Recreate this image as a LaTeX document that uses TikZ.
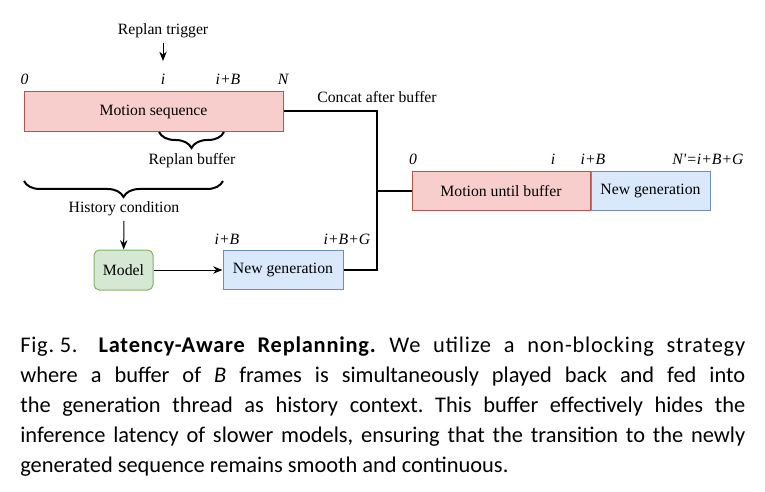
\documentclass[tikz,border=0pt]{standalone}
\usepackage{fontspec}
\setmainfont{Liberation Serif}
\newfontfamily\capfont{Carlito}
\usetikzlibrary{arrows.meta,positioning,calc,decorations.pathreplacing}
\definecolor{seqred}{HTML}{F8CECC}
\definecolor{seqredline}{HTML}{B85450}
\definecolor{genblue}{HTML}{DAE8FC}
\definecolor{genblueline}{HTML}{6C8EBF}
\definecolor{modgreen}{HTML}{D5E8D4}
\definecolor{modgreenline}{HTML}{82B366}

\begin{document}
\begin{tikzpicture}[
  x=0.75pt, y=-0.75pt,
  every node/.style={font=\fontsize{11.8}{14}\selectfont},
  seqbox/.style={draw=seqredline, fill=seqred, line width=0.75pt, inner sep=0pt, minimum height=29.5pt},
  genbox/.style={draw=genblueline, fill=genblue, line width=0.75pt, inner sep=0pt, minimum height=29.5pt},
  modbox/.style={draw=modgreenline, fill=modgreen, line width=0.75pt, rounded corners=4pt,
    inner sep=0pt, minimum width=44.25pt, minimum height=30pt},
  idx/.style={font=\fontsize{11.8}{14}\selectfont\itshape, anchor=base, inner sep=0pt},
  arrow/.style={-{Stealth[length=7pt,width=5.5pt]}, line width=0.75pt},
  joinline/.style={line width=1.5pt},
  bracket/.style={decorate, decoration={brace, mirror, amplitude=12pt}, line width=1.5pt},
]
  \useasboundingbox (0,0) rectangle (765,492);

  % Current motion (top left)
  \node[seqbox, minimum width=194.25pt] (ms) at (153.5,111.5) {Motion sequence};
  \node[idx] (l0)  at (24.5,85) {0};
  \node[idx] (li)  at (163,85) {i};
  \node[idx] (lib) at (228,85) {i+B};
  \node[idx] (ln)  at (283,85) {N};

  % Trigger
  \node (trig) at (163,31) {Replan trigger};
  \draw[arrow, shorten >=10pt] (trig) -- (li);

  % Braces below the sequence
  \draw[bracket] (159,132) -- (224,132);
  \node (rbuf) at (192,161) {Replan buffer};
  \draw[bracket] (24,181) -- (223,181);
  \node (hist) at (124,209) {History condition};

  % Generation thread
  \node[modbox] (model) at (123.5,270) {Model};
  \node[genbox, minimum width=90pt] (ng) at (283,270) {New generation};
  \node[idx] (gib)  at (227,244) {i+B};
  \node[idx] (gibg) at (347,244) {i+B+G};
  \draw[arrow] (hist) -- (model);
  \draw[arrow] (model) -- (ng);

  % Result after concatenation (right)
  \node[seqbox, minimum width=133.5pt] (mub) at (501,191) {Motion until buffer};
  \node[genbox, minimum width=89.25pt, anchor=west] (ngr) at (mub.east) {New generation};
  \node[idx] (r0)  at (413,165) {0};
  \node[idx] (ri)  at (553,165) {i};
  \node[idx] (rib) at (593,165) {i+B};
  \node[idx] (rn)  at (708,165) {N\textquotesingle=i+B+G};

  % Concat connector
  \coordinate (jn) at (377,191);
  \node (cat) at (377,97) {Concat after buffer};
  \draw[joinline] (ms.east) -| (jn);
  \draw[joinline] (ng.east) -| (jn);
  \draw[joinline] (jn) -- (mub.west);

  % Caption
  \node[anchor=north west, inner sep=0pt, text width=543.75pt, align=justify,
    font=\capfont\fontsize{16.8}{22.5}\selectfont\frenchspacing] (cap) at (20,337)
    {{\addfontfeature{LetterSpace=3.5}Fig.\nobreak\hspace{0.25em}5.\hspace{0.9em}\textbf{Latency-Aware Replanning.} We utilize a non-blocking strategy}\linebreak
     where a buffer of \textit{B} frames is simultaneously played back and fed into\linebreak
     the generation thread as history context. This buffer effectively hides the\linebreak
     inference latency of slower models, ensuring that the transition to the newly\linebreak
     generated sequence remains smooth and continuous.};
\end{tikzpicture}
\end{document}
